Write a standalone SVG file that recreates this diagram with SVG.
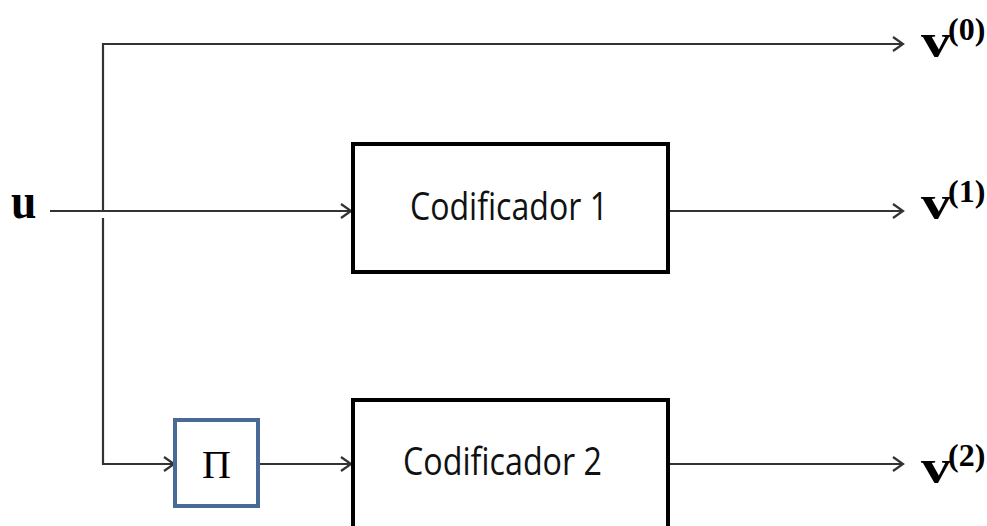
<svg xmlns="http://www.w3.org/2000/svg" width="987" height="526" viewBox="0 0 987 526">
<defs>
<marker id="arr" markerWidth="14" markerHeight="16" refX="12" refY="8" orient="auto" markerUnits="userSpaceOnUse">
<path d="M2,1 L12,8 L2,15" fill="none" stroke="#333" stroke-width="2.2"/>
</marker>
<style>
.ln{fill:none;stroke:#333;stroke-width:2.2}
.box{fill:#fff;stroke:#000;stroke-width:4}
.lbl{font-family:"Open Sans","Liberation Sans",sans-serif;font-size:38px;fill:#111}
.math{font-family:"Liberation Serif","Times New Roman",serif;font-weight:bold;fill:#000}
.sup{font-family:"Liberation Serif","Times New Roman",serif;font-weight:bold;fill:#000;font-size:32px}
</style>
</defs>
<rect width="987" height="526" fill="#fff"/>
<g id="connectors">
<path class="ln" d="M103,211 V44 H903" marker-end="url(#arr)"/>
<path class="ln" d="M50,211 H351" marker-end="url(#arr)"/>
<path class="ln" d="M669,211 H903" marker-end="url(#arr)"/>
<path class="ln" d="M103,218 V464 H174" marker-end="url(#arr)"/>
<path class="ln" d="M259,464 H351" marker-end="url(#arr)"/>
<path class="ln" d="M669,464 H903" marker-end="url(#arr)"/>
</g>
<g id="enc1">
<rect class="box" x="353" y="144" width="315" height="128"/>
<text class="lbl" x="410" y="220" textLength="198" lengthAdjust="spacingAndGlyphs">Codificador 1</text>
</g>
<g id="enc2">
<rect class="box" x="353" y="400" width="315" height="130"/>
<text class="lbl" x="403" y="475" textLength="199" lengthAdjust="spacingAndGlyphs">Codificador 2</text>
</g>
<g id="interleaver">
<rect x="175" y="420" width="83" height="86" fill="#fff" stroke="#4a6a96" stroke-width="4"/>
<text x="216.5" y="478" font-family="Liberation Serif, serif" font-size="40" text-anchor="middle" fill="#000">Π</text>
</g>
<g id="input_u">
<text class="math" font-size="48" transform="translate(11,218) scale(0.95,1.05)">u</text>
</g>
<g id="out_v0">
<text class="math" font-size="48" transform="translate(921,57) scale(1.25,1)">v</text>
<text class="sup" x="948" y="40">(0)</text>
</g>
<g id="out_v1">
<text class="math" font-size="48" transform="translate(921,219) scale(1.25,1)">v</text>
<text class="sup" x="948" y="202">(1)</text>
</g>
<g id="out_v2">
<text class="math" font-size="48" transform="translate(921,483) scale(1.25,1)">v</text>
<text class="sup" x="948" y="466">(2)</text>
</g>
</svg>
